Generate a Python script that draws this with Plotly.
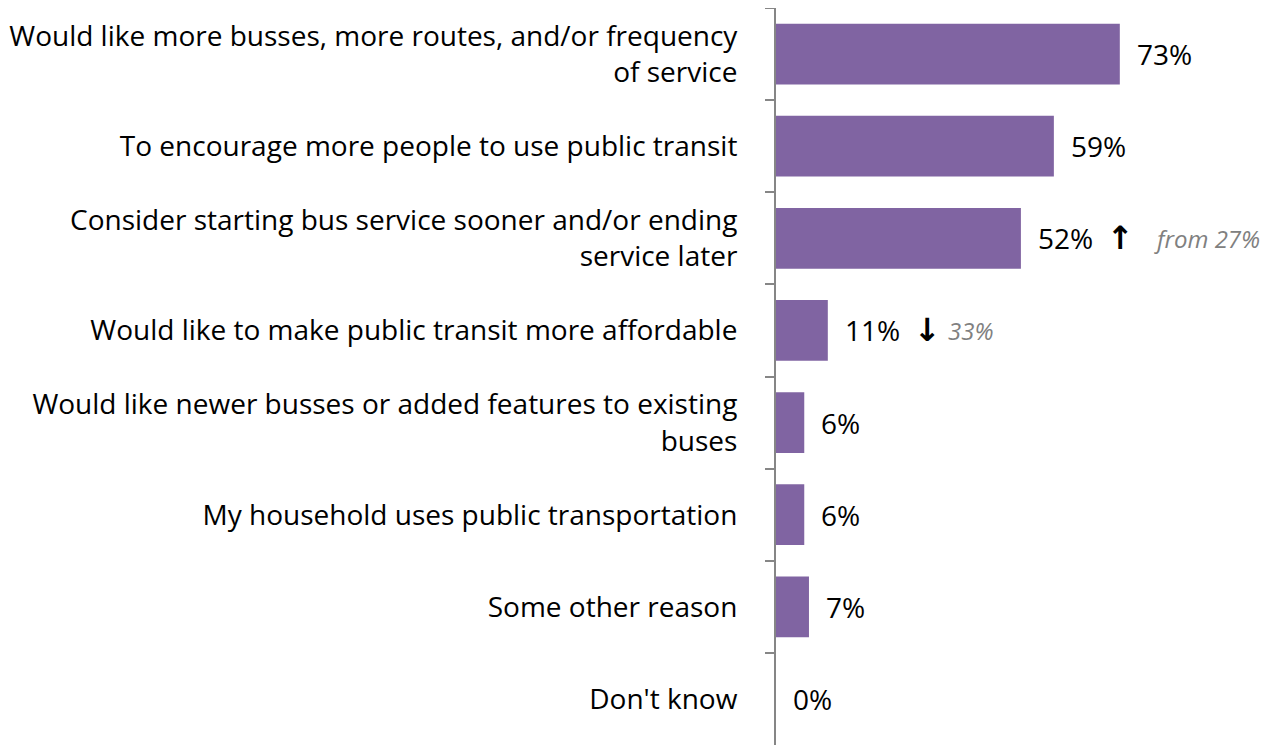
import plotly.graph_objects as go

categories = [
    "Would like more busses, more routes, and/or frequency<br>of service",
    "To encourage more people to use public transit",
    "Consider starting bus service sooner and/or ending<br>service later",
    "Would like to make public transit more affordable",
    "Would like newer busses or added features to existing<br>buses",
    "My household uses public transportation",
    "Some other reason",
    "Don't know",
]
values = [73, 59, 52, 11, 6, 6, 7, 0]
value_labels = ["73%", "59%", "52%", "11%", "6%", "6%", "7%", "0%"]

# change notes next to some bars
change_idx = [2, 3]
change_arrow = ["\u2191", "\u2193"]
change_text = ["from 27%", "33%"]

FONT = "Open Sans"
PURPLE = "#8064A2"

fig = go.Figure()
fig.add_trace(go.Bar(
    y=categories,
    x=values,
    orientation="h",
    marker=dict(color=PURPLE, line=dict(width=0)),
    width=0.66,
    hoverinfo="skip",
))

# value labels
for cat, v, lab in zip(categories, values, value_labels):
    fig.add_annotation(
        x=v, y=cat, text=lab, showarrow=False,
        xanchor="left", xshift=15,
        font=dict(family=FONT, size=28, color="black"),
    )

# arrows + previous values (pixel offsets from the bar end)
arrow_shift = [84, 84]
note_shift = [131, 118]
for i, arr, txt, ash, nsh in zip(change_idx, change_arrow, change_text,
                                arrow_shift, note_shift):
    fig.add_annotation(
        x=values[i], y=categories[i], text="<b>" + arr + "</b>", showarrow=False,
        xanchor="left", xshift=ash,
        font=dict(family="DejaVu Sans", size=32, color="black"),
    )
    fig.add_annotation(
        x=values[i], y=categories[i], text="<i>" + txt + "</i>", showarrow=False,
        xanchor="left", xshift=nsh,
        font=dict(family=FONT, size=24, color="#808080"),
    )

# page body has an 8px margin, so the figure is a bit smaller than the window
fig.update_layout(
    width=1271, height=737,
    margin=dict(l=768, r=0, t=0, b=0),
    plot_bgcolor="white", paper_bgcolor="white",
    showlegend=False,
    font=dict(family=FONT, size=28, color="black"),
    xaxis=dict(range=[0, 106.8], visible=False, showgrid=False, zeroline=False),
    yaxis=dict(
        autorange="reversed",
        showline=True, linecolor="#868686", linewidth=2,
        ticks="outside", tickson="boundaries", ticklen=9, tickcolor="#868686", tickwidth=2,
        ticklabelstandoff=31,
        showgrid=False,
        tickfont=dict(family=FONT, size=28, color="black"),
    ),
)

fig.write_html("out.html")
